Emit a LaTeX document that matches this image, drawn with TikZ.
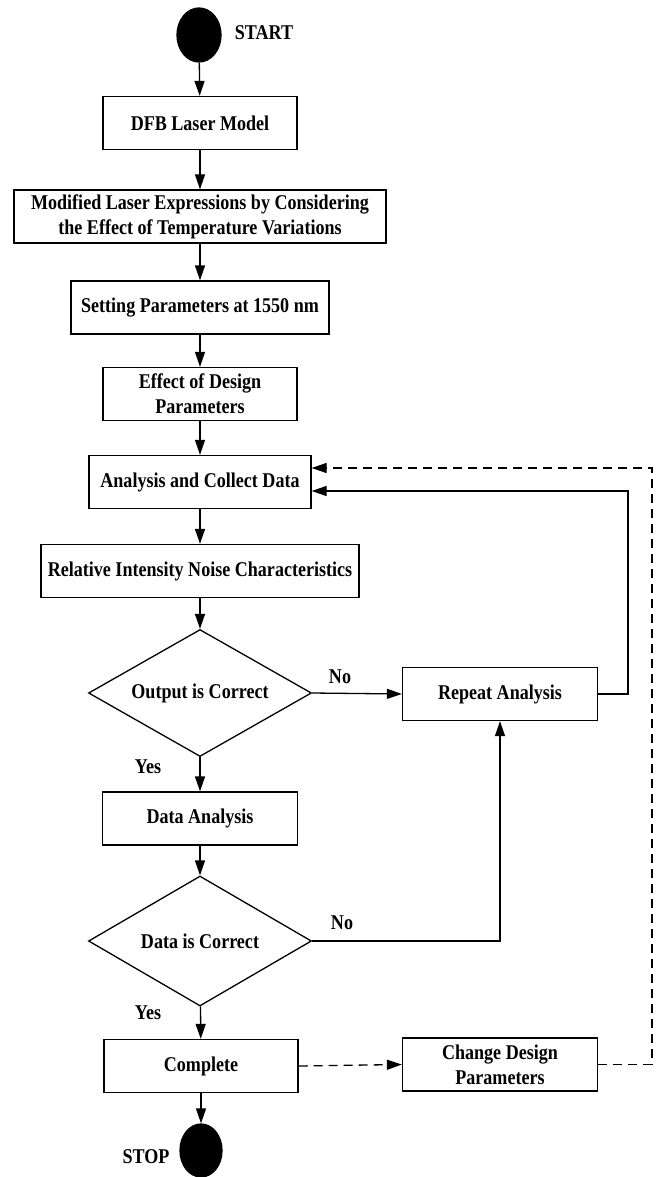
\documentclass[tikz,border=0pt]{standalone}
\usepackage{fontspec}
\setmainfont{Liberation Serif}[FakeStretch=0.86]
\usetikzlibrary{shapes.geometric,arrows.meta}

\begin{document}
\begin{tikzpicture}[x=1pt, y=1pt, line width=1.3pt,
    font=\fontsize{21}{25}\selectfont\bfseries,
    >={Triangle[length=15pt,width=10pt]},
    box/.style={draw, rectangle, minimum height=53pt,
                inner sep=2pt, align=center},
    decision/.style={draw, diamond, aspect=1.75, inner sep=0pt,
                     minimum width=223pt},
    terminal/.style={draw, ellipse, fill=black,
                     minimum width=44pt, minimum height=54pt}]

\useasboundingbox (0,0) rectangle (657,-1177);

\node[terminal] (start) at (199, -35) {};
\node (startlbl) at (264, -33) {START};

\node[box, minimum width=194pt] (dfb)      at (200, -123)   {DFB Laser Model};
\node[box, minimum width=372pt] (modified) at (200, -216.5)
    {Modified Laser Expressions by Considering\\the Effect of Temperature Variations};
\node[box, minimum width=258pt] (setting)  at (200, -307.5) {Setting Parameters at 1550 nm};
\node[box, minimum width=194pt] (effect)   at (200, -394)   {Effect of Design\\Parameters};
\node[box, minimum width=222pt] (analysis) at (200, -482)   {Analysis and Collect Data};
\node[box, minimum width=318pt] (rin)      at (200, -571)
    {Relative Intensity Noise Characteristics};

\node[decision, minimum height=127pt] (outok) at (200, -693) {Output is Correct};
\node[box, minimum width=195pt] (repeat)  at (500, -694)   {Repeat Analysis};
\node[box, minimum width=195pt] (dataan)  at (200, -818.5) {Data Analysis};
\node[decision, minimum height=130pt] (dataok) at (200, -941) {Data is Correct};
\node[box, minimum width=194pt] (complete) at (201, -1066)  {Complete};
\node[box, minimum width=195pt] (change)   at (500, -1064.5) {Change Design\\Parameters};

\node[terminal, minimum width=42pt, minimum height=53pt] (stop) at (201, -1150.5) {};
\node (stoplbl) at (146, -1157) {STOP};

\node (yes1) at (148, -767)  {Yes};
\node (no1)  at (340, -677)  {No};
\node (yes2) at (148, -1013) {Yes};
\node (no2)  at (342, -923)  {No};

% main flow
\draw[->] (start)    -- (dfb);
\draw[->] (dfb)      -- (modified);
\draw[->] (modified) -- (setting);
\draw[->] (setting)  -- (effect);
\draw[->] (effect)   -- (analysis);
\draw[->] (analysis) -- (rin);
\draw[->] (rin)      -- (outok);
\draw[->] (outok)    -- (dataan);
\draw[->] (dataan)   -- (dataok);
\draw[->] (dataok)   -- (complete);
\draw[->] (complete) -- (stop);

% loops back
\coordinate (loopsolid)  at (628, -491);
\coordinate (loopdashed) at (652, -468);

\draw[->] (outok.east) -- (repeat.west);
\draw[->] (dataok.east) -| (repeat.south);
\draw[->] (repeat.east) -| (loopsolid) -- (loopsolid -| analysis.east);

\draw[->, dash pattern=on 9pt off 6pt] (complete.east) -- (change.west);
\draw[->, dash pattern=on 9pt off 6pt]
    (change.east) -| (loopdashed) -- (loopdashed -| analysis.east);

\end{tikzpicture}
\end{document}
